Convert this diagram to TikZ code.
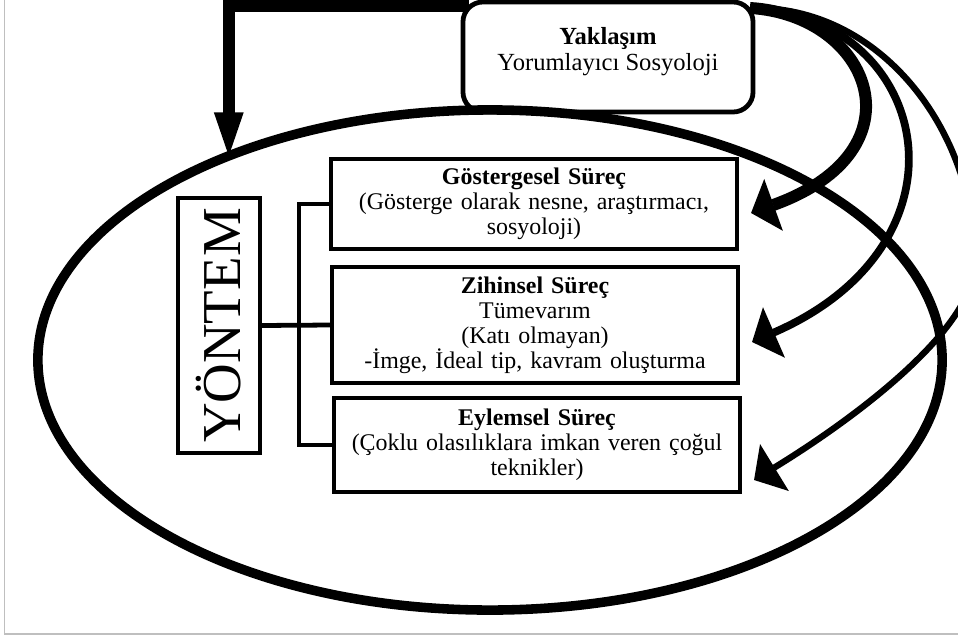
\documentclass[tikz,border=0pt]{standalone}
\usepackage{fontspec}
\setmainfont{Liberation Serif}
\usepackage{graphicx}
\usetikzlibrary{shapes.geometric,arrows.meta}
\tikzset{
  surec/.style={draw, line width=3.2pt, align=center, inner sep=0pt, outer sep=0pt,
    text width=10.15cm, font=\fontsize{17pt}{17.8pt}\selectfont},
  dal/.style={line width=3.4pt},
  donus/.style={line width=#1, -{Triangle[length=17pt,width=39pt,line width=1pt]}},
}
\begin{document}
\begin{tikzpicture}[x=0.025cm, y=0.025cm]
\useasboundingbox (0,0) rectangle (958,-638);
% frame
\draw[black!25, line width=1.4pt] (4.5,0) -- (4.5,-634) -- (958,-634);

\node[ellipse, draw, line width=6.8pt, minimum width=22.6cm, minimum height=12.5cm,
  inner sep=0pt, outer sep=0pt] (govde) at (490,-360) {};

\node[surec, minimum height=2.25cm] (gos) at (534,-204)
  {\textbf{Göstergesel Süreç}\\(Gösterge olarak nesne, araştırmacı,\\sosyoloji)};
\node[surec, minimum height=2.9cm] (zih) at (535,-325)
  {\textbf{Zihinsel Süreç}\\Tümevarım\\(Katı olmayan)\\-İmge, İdeal tip, kavram oluşturma};
\node[surec, minimum height=2.35cm] (eyl) at (537,-445)
  {\textbf{Eylemsel Süreç}\\(Çoklu olasılıklara imkan veren çoğul\\teknikler)};

\node[draw, line width=3pt, inner sep=0pt, outer sep=0pt, minimum width=2.05cm,
  minimum height=6.375cm, font=\fontsize{39pt}{39pt}\selectfont] (yon) at (219,-325.5)
  {\rotatebox{90}{YÖNTEM}};

\node[draw, rounded corners=0.5cm, line width=3.4pt, align=center, inner sep=0pt,
  outer sep=0pt, minimum width=7.25cm, minimum height=2.75cm,
  font=\fontsize{17.5pt}{18.5pt}\selectfont] (yak) at (608,-57)
  {\textbf{Yaklaşım}\\Yorumlayıcı Sosyoloji\\[-0.4em]\mbox{}};

% tree
\draw[dal] (yon.east) -- (zih.west);
\draw[dal] (gos.west) -- ++(-32,0) |- (eyl.west);

% elbow arrow
\draw[line width=8.5pt, -{Triangle[length=31pt,width=21pt,line width=1pt]}]
  ([shift={(6,-4)}]yak.north west) -| (govde.142.6);

% return arrows
\coordinate (cikis) at ([shift={(-3,-6)}]yak.north east);
\coordinate (g-ok) at ([shift={(14,-9)}]gos.east);
\coordinate (z-ok) at ([shift={(14,-17)}]zih.east);
\coordinate (e-ok) at ([shift={(14,-35)}]eyl.east);
\coordinate (uzak) at (975,-262);

\draw[donus=8.5pt] (cikis) .. controls +(120,-7) and +(175,63) .. (g-ok);
\draw[donus=5.5pt] (cikis) .. controls +(180,-7) and +(230,100) .. (z-ok);
\draw[donus=4.5pt] (cikis) .. controls +(130,3) and +(0,132) .. (uzak)
  .. controls +(0,-68) and +(98,60) .. (e-ok);
\end{tikzpicture}
\end{document}
